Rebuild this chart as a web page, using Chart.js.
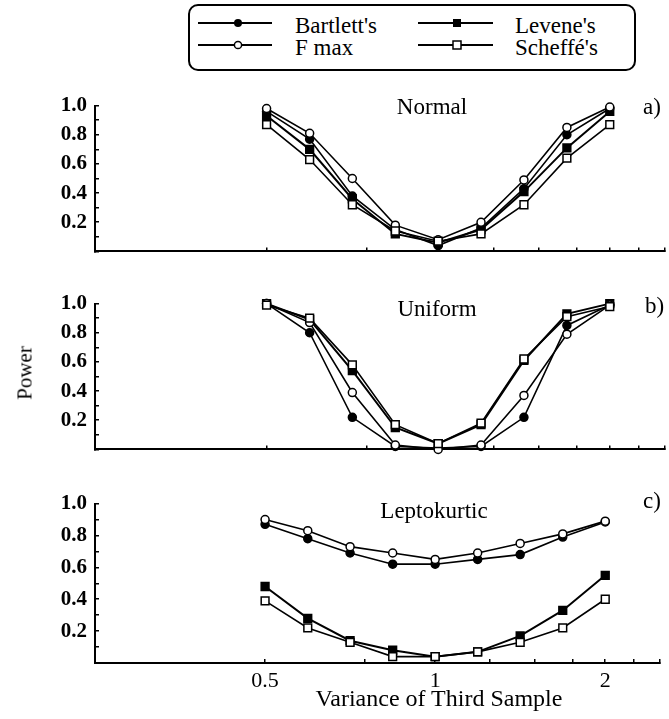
<!DOCTYPE html>
<html>
<head>
<meta charset="utf-8">
<script src="https://cdn.jsdelivr.net/npm/chart.js@4.4.1/dist/chart.umd.min.js"></script>
<style>
  body { margin: 0; background: #fff; }
  #page { position: relative; width: 669px; height: 719px; overflow: hidden; font-family: "Liberation Serif", "Times New Roman", Times, "DejaVu Serif", serif; color: #000; }
  canvas { position: absolute; left: 0; }
  .txt { position: absolute; font-size: 23px; line-height: 1; white-space: nowrap; }
  .mid { transform: translate(-50%, -50%); }
  .left { transform: translate(0, -50%); }
</style>
</head>
<body>
<div id="page">
  <svg width="669" height="75" style="position:absolute;left:0;top:0">
    <rect x="189" y="5" width="446" height="65" rx="9" ry="9" fill="none" stroke="#000" stroke-width="2"/>
    <line x1="198" y1="23" x2="272" y2="23" stroke="#000" stroke-width="2"/>
    <circle cx="238" cy="23" r="4" fill="#000"/>
    <line x1="198" y1="45" x2="272" y2="45" stroke="#000" stroke-width="2"/>
    <circle cx="238" cy="45" r="3.6" fill="#fff" stroke="#000" stroke-width="1.5"/>
    <line x1="418" y1="23" x2="493" y2="23" stroke="#000" stroke-width="2"/>
    <rect x="453" y="19" width="8" height="8" fill="#000"/>
    <line x1="418" y1="45" x2="493" y2="45" stroke="#000" stroke-width="2"/>
    <rect x="453" y="41" width="8" height="8" fill="#fff" stroke="#000" stroke-width="1.5"/>
  </svg>
  <div class="txt left" style="left:295px;top:25px">Bartlett's</div>
  <div class="txt left" style="left:295px;top:47px">F max</div>
  <div class="txt left" style="left:515px;top:25px">Levene's</div>
  <div class="txt left" style="left:515px;top:47px">Scheffé's</div>

  <canvas id="chartA" width="669" height="195" style="top:81px"></canvas>
  <canvas id="chartB" width="669" height="195" style="top:279px"></canvas>
  <canvas id="chartC" width="669" height="240" style="top:479px"></canvas>

  <div class="txt mid" style="left:432px;top:106px">Normal</div>
  <div class="txt left" style="left:643px;top:106px">a)</div>
  <div class="txt mid" style="left:437px;top:308px">Uniform</div>
  <div class="txt left" style="left:645px;top:305px">b)</div>
  <div class="txt mid" style="left:434px;top:510px">Leptokurtic</div>
  <div class="txt left" style="left:643px;top:500px">c)</div>
  <div class="txt mid" style="left:25px;top:373px;font-size:21px;transform:translate(-50%,-50%) rotate(-90deg)">Power</div>
  <div class="txt mid" style="left:439px;top:698px;font-size:24px">Variance of Third Sample</div>
</div>

<script>
const serif = '"Liberation Serif", "Times New Roman", Times, "DejaVu Serif", serif';

// x positions (variance of third sample)
const varianceRatios = [0.5, 0.595, 0.707, 0.841, 1, 1.189, 1.414, 1.682, 2];
const xTickMarks = [0.25, 0.5, 0.75, 1, 1.25, 1.5, 1.75, 2, 2.25, 2.5];
const xTickLabels = ['0.5', '1', '2'];
const yTickLabels = ['0.2', '0.4', '0.6', '0.8', '1.0'];

// a) Normal
const normalBartlett = [0.96, 0.77, 0.38, 0.15, 0.04, 0.16, 0.43, 0.80, 0.98];
const normalFmax     = [0.98, 0.81, 0.50, 0.18, 0.08, 0.20, 0.49, 0.85, 0.99];
const normalLevene   = [0.93, 0.70, 0.36, 0.12, 0.06, 0.15, 0.41, 0.71, 0.96];
const normalScheffe  = [0.87, 0.63, 0.32, 0.14, 0.07, 0.12, 0.32, 0.64, 0.87];

// b) Uniform
const uniformBartlett = [1.00, 0.80, 0.22, 0.02, 0.01, 0.02, 0.22, 0.85, 0.99];
const uniformFmax     = [1.00, 0.87, 0.39, 0.03, 0.00, 0.03, 0.37, 0.79, 0.99];
const uniformLevene   = [1.00, 0.89, 0.54, 0.15, 0.04, 0.17, 0.61, 0.93, 1.00];
const uniformScheffe  = [0.99, 0.90, 0.58, 0.17, 0.04, 0.18, 0.62, 0.91, 0.98];

// c) Leptokurtic
const leptoBartlett = [0.87, 0.78, 0.69, 0.62, 0.62, 0.65, 0.68, 0.79, 0.885];
const leptoFmax     = [0.90, 0.83, 0.73, 0.69, 0.65, 0.69, 0.75, 0.81, 0.89];
const leptoLevene   = [0.48, 0.28, 0.14, 0.08, 0.04, 0.07, 0.17, 0.33, 0.55];
const leptoScheffe  = [0.39, 0.22, 0.13, 0.04, 0.04, 0.07, 0.13, 0.22, 0.40];

const pairs = vals => vals.map((v, i) => ({ x: varianceRatios[i], y: v }));

function series(label, vals, style, filled, width) {
  return {
    label: label,
    data: pairs(vals),
    borderColor: '#000',
    borderWidth: width,
    pointStyle: style,
    pointRadius: style === 'rect' ? 5.5 : 4,
    pointBorderWidth: 1.5,
    pointBorderColor: '#000',
    pointBackgroundColor: filled ? '#000' : '#fff',
    tension: 0,
    clip: false
  };
}

function drawPanel(id, bart, fmax, lev, sch, bottom) {
  const ctx = document.getElementById(id);
  new Chart(ctx, {
    type: 'line',
    data: {
      datasets: [
        series("Scheffé's", sch, 'rect', false, 1.6),
        series('F max', fmax, 'circle', false, 1.6),
        series("Levene's", lev, 'rect', true, 2),
        series("Bartlett's", bart, 'circle', true, 1.6)
      ]
    },
    options: {
      responsive: false,
      animation: false,
      layout: { autoPadding: false, padding: { top: 20, right: 4, left: 0, bottom: bottom ? 4 : 8 } },
      plugins: { legend: { display: false }, tooltip: { enabled: false } },
      scales: {
        x: {
          type: 'logarithmic',
          min: 0.25,
          max: 2.5,
          afterBuildTicks: s => { s.ticks = xTickMarks.map(v => ({ value: v })); },
          afterFit: s => { s.height = bottom ? 52 : 2; },
          border: { display: true, color: '#000', width: 2 },
          grid: { drawOnChartArea: false, drawTicks: true, tickLength: -4, color: '#000', lineWidth: 1.5 },
          ticks: {
            display: bottom,
            autoSkip: false,
            maxRotation: 0,
            padding: 9,
            color: '#000',
            font: { family: serif, size: 22 },
            callback: v => { const s = String(v); return xTickLabels.includes(s) ? s : ''; }
          }
        },
        y: {
          min: 0,
          max: 1,
          afterFit: s => { s.width = 95; },
          border: { display: true, color: '#000', width: 2 },
          grid: { drawOnChartArea: false, drawTicks: true, tickLength: -4, color: '#000', lineWidth: 1.5 },
          ticks: {
            stepSize: 0.1,
            autoSkip: false,
            padding: 12,
            color: '#000',
            font: { family: serif, size: 21, weight: 'bold' },
            callback: v => { const s = Number(v).toFixed(1); return yTickLabels.includes(s) ? s : ''; }
          }
        }
      }
    }
  });
}

drawPanel('chartA', normalBartlett, normalFmax, normalLevene, normalScheffe, false);
drawPanel('chartB', uniformBartlett, uniformFmax, uniformLevene, uniformScheffe, false);
drawPanel('chartC', leptoBartlett, leptoFmax, leptoLevene, leptoScheffe, true);
</script>
</body>
</html>
